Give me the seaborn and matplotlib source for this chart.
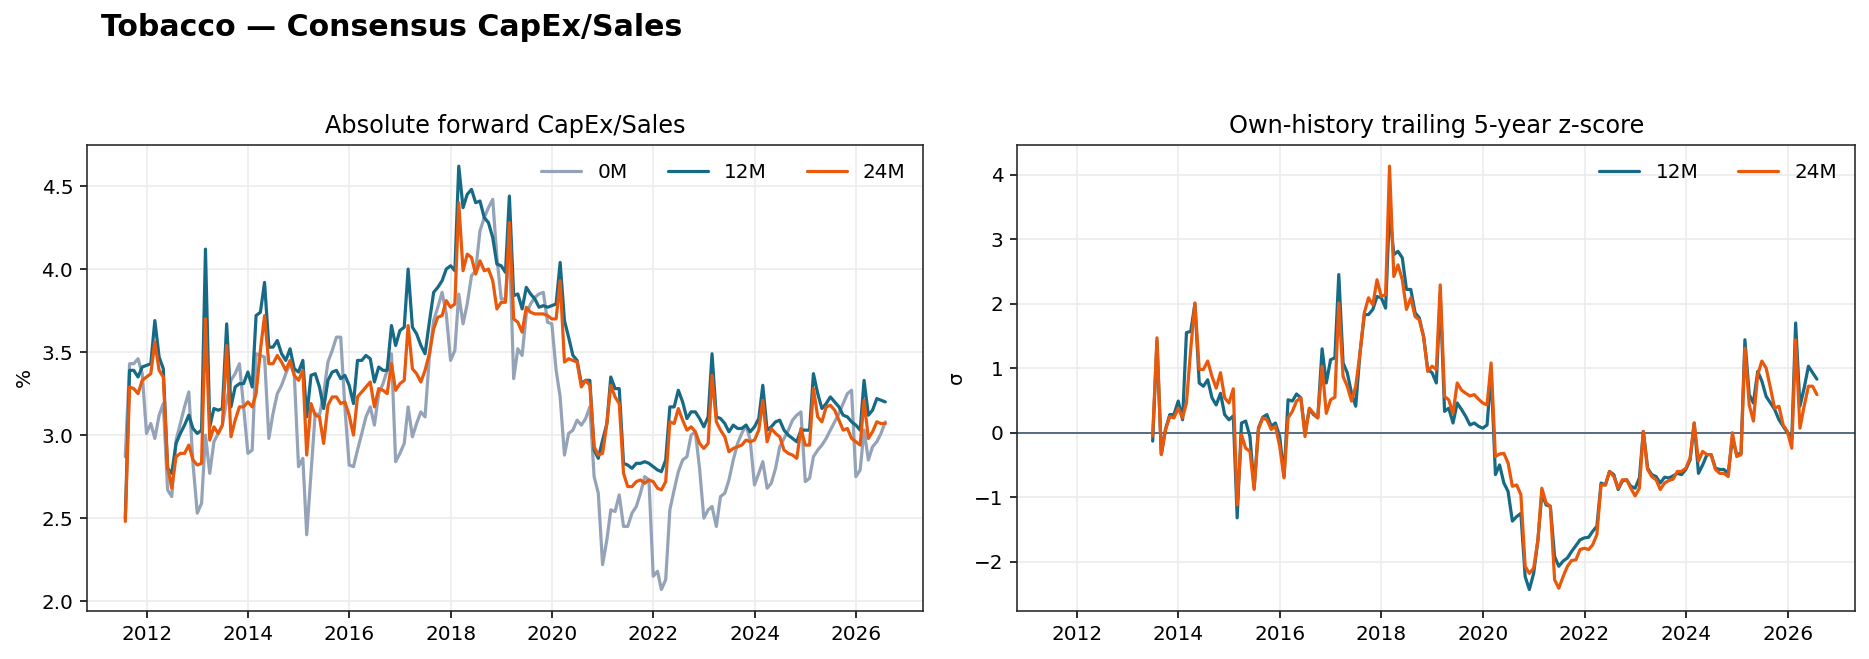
import matplotlib
matplotlib.use("Agg")
import matplotlib.pyplot as plt
import matplotlib.dates as mdates
import numpy as np
import pandas as pd
import seaborn as sns

# monthly observations, first at end of Jul 2011
start = "2011-07-31"
n_months = 181
z_start = 23          # z-score needs 2y of history before it starts

series_names = ["0M", "12M", "24M"]
colors = {"0M": "#94a3b8", "12M": "#176a86", "24M": "#ea580c"}

capex_0m = [
    2.87, 3.43, 3.43, 3.46, 3.37, 3.01, 3.07, 2.98, 3.12, 3.19,
    2.67, 2.63, 2.97, 3.07, 3.17, 3.26, 2.83, 2.53, 2.59, 3.00,
    2.77, 2.96, 3.01, 3.06, 3.21, 3.33, 3.37, 3.43, 3.17, 2.89,
    2.91, 3.49, 3.48, 3.47, 2.98, 3.13, 3.25, 3.30, 3.37, 3.43,
    3.37, 2.81, 2.86, 2.40, 2.77, 3.13, 3.12, 3.25, 3.44, 3.51,
    3.59, 3.59, 3.17, 2.82, 2.81, 2.91, 3.01, 3.11, 3.17, 3.06,
    3.25, 3.31, 3.39, 3.49, 2.84, 2.89, 2.95, 3.17, 2.99, 3.07,
    3.14, 3.11, 3.47, 3.69, 3.77, 3.86, 3.73, 3.45, 3.51, 3.85,
    3.67, 3.79, 3.96, 3.99, 4.23, 4.31, 4.37, 4.42, 4.07, 3.82,
    3.82, 4.15, 3.34, 3.52, 3.48, 3.73, 3.79, 3.83, 3.85, 3.86,
    3.68, 3.67, 3.39, 3.23, 2.88, 3.01, 3.03, 3.09, 3.06, 3.10,
    3.17, 2.75, 2.65, 2.22, 2.37, 2.55, 2.54, 2.64, 2.45, 2.45,
    2.53, 2.57, 2.65, 2.75, 2.73, 2.15, 2.18, 2.07, 2.13, 2.55,
    2.67, 2.78, 2.85, 2.87, 3.00, 3.02, 2.80, 2.50, 2.55, 2.57,
    2.45, 2.63, 2.65, 2.73, 2.85, 2.95, 3.01, 3.06, 2.97, 2.70,
    2.77, 2.84, 2.68, 2.71, 2.80, 2.93, 2.98, 3.03, 3.09, 3.12,
    3.14, 2.72, 2.74, 2.87, 2.91, 2.94, 2.98, 3.03, 3.08, 3.13,
    3.19, 3.25, 3.27, 2.75, 2.79, 3.03, 2.85, 2.93, 2.96, 3.01,
    3.08]

capex_12m = [
    2.50, 3.39, 3.39, 3.35, 3.41, 3.42, 3.43, 3.69, 3.47, 3.40,
    2.80, 2.77, 2.95, 3.01, 3.06, 3.12, 3.04, 3.01, 3.03, 4.12,
    3.05, 3.16, 3.15, 3.16, 3.67, 3.17, 3.29, 3.31, 3.31, 3.38,
    3.29, 3.72, 3.74, 3.92, 3.53, 3.53, 3.57, 3.49, 3.45, 3.52,
    3.40, 3.38, 3.45, 3.11, 3.36, 3.37, 3.29, 3.16, 3.33, 3.38,
    3.39, 3.34, 3.36, 3.30, 3.19, 3.45, 3.45, 3.48, 3.46, 3.32,
    3.41, 3.39, 3.39, 3.66, 3.54, 3.63, 3.65, 4.00, 3.65, 3.61,
    3.54, 3.49, 3.68, 3.86, 3.89, 3.93, 4.00, 4.02, 3.99, 4.62,
    4.37, 4.45, 4.48, 4.40, 4.41, 4.31, 4.28, 4.19, 4.03, 4.02,
    3.98, 4.44, 3.84, 3.85, 3.76, 3.89, 3.85, 3.82, 3.77, 3.78,
    3.77, 3.78, 3.79, 4.04, 3.69, 3.59, 3.48, 3.45, 3.31, 3.33,
    3.33, 2.91, 2.86, 2.97, 3.07, 3.35, 3.28, 3.28, 2.83, 2.82,
    2.80, 2.83, 2.83, 2.84, 2.83, 2.81, 2.79, 2.78, 2.85, 3.17,
    3.17, 3.27, 3.20, 3.10, 3.14, 3.14, 3.10, 3.05, 3.11, 3.49,
    3.11, 3.10, 3.07, 3.02, 3.06, 3.04, 3.04, 3.06, 3.02, 3.05,
    3.10, 3.30, 3.03, 3.05, 3.08, 3.09, 3.03, 3.00, 2.98, 2.96,
    3.03, 3.03, 3.03, 3.37, 3.25, 3.16, 3.19, 3.23, 3.20, 3.17,
    3.12, 3.11, 3.08, 3.06, 3.03, 3.33, 3.12, 3.15, 3.22, 3.21,
    3.20]

capex_24m = [
    2.48, 3.29, 3.28, 3.25, 3.33, 3.35, 3.37, 3.56, 3.39, 3.35,
    2.81, 2.68, 2.87, 2.89, 2.89, 2.94, 2.85, 2.82, 2.83, 3.70,
    2.97, 3.05, 3.01, 3.06, 3.54, 2.99, 3.09, 3.17, 3.17, 3.20,
    3.17, 3.25, 3.51, 3.72, 3.43, 3.43, 3.48, 3.44, 3.39, 3.45,
    3.36, 3.33, 3.39, 2.88, 3.19, 3.12, 3.11, 2.95, 3.18, 3.23,
    3.23, 3.19, 3.20, 3.12, 3.00, 3.23, 3.26, 3.29, 3.32, 3.17,
    3.28, 3.27, 3.25, 3.43, 3.27, 3.31, 3.33, 3.66, 3.40, 3.37,
    3.32, 3.39, 3.49, 3.64, 3.71, 3.72, 3.81, 3.77, 3.79, 4.40,
    3.99, 4.09, 4.07, 3.97, 4.05, 3.99, 4.00, 3.93, 3.76, 3.80,
    3.80, 4.28, 3.70, 3.68, 3.62, 3.77, 3.74, 3.73, 3.73, 3.73,
    3.72, 3.70, 3.70, 3.93, 3.44, 3.46, 3.45, 3.44, 3.29, 3.33,
    3.30, 2.93, 2.88, 2.89, 3.07, 3.30, 3.23, 3.19, 2.77, 2.69,
    2.69, 2.72, 2.73, 2.71, 2.73, 2.72, 2.68, 2.67, 2.72, 3.08,
    3.07, 3.16, 3.09, 3.03, 3.05, 3.02, 2.95, 2.92, 2.95, 3.36,
    3.08, 3.03, 2.99, 2.90, 2.92, 2.93, 2.94, 2.97, 2.96, 2.97,
    3.03, 3.21, 2.96, 3.04, 3.01, 2.99, 2.91, 2.89, 2.88, 2.86,
    3.04, 2.94, 2.94, 3.28, 3.11, 3.08, 3.17, 3.18, 3.15, 3.09,
    3.03, 3.04, 2.98, 2.96, 2.94, 3.21, 2.98, 3.02, 3.08, 3.07,
    3.07]

z_12m = [
    -0.13, 1.42, -0.33, 0.05, 0.28, 0.28, 0.49,
    0.20, 1.55, 1.57, 2.00, 0.77, 0.72, 0.82, 0.54, 0.43, 0.61,
    0.28, 0.20, 0.26, -1.32, 0.15, 0.18, -0.06, -0.86, 0.07, 0.24,
    0.28, 0.10, 0.15, -0.06, -0.68, 0.51, 0.49, 0.60, 0.54, 0.00,
    0.36, 0.28, 0.23, 1.30, 0.77, 1.13, 1.16, 2.45, 1.08, 0.93,
    0.61, 0.41, 1.24, 1.83, 1.83, 1.91, 2.11, 2.09, 1.93, 3.45,
    2.76, 2.81, 2.71, 2.22, 2.22, 1.86, 1.78, 1.49, 0.98, 0.93,
    0.77, 2.15, 0.33, 0.38, 0.15, 0.46, 0.36, 0.25, 0.12, 0.15,
    0.10, 0.07, 0.12, 0.93, -0.65, -0.50, -0.78, -0.91, -1.37, -1.30,
    -1.25, -2.23, -2.43, -2.18, -1.66, -0.94, -1.12, -1.14, -1.92, -2.07,
    -1.99, -1.94, -1.84, -1.75, -1.66, -1.63, -1.62, -1.53, -1.45, -0.78,
    -0.81, -0.60, -0.65, -0.88, -0.75, -0.73, -0.83, -0.86, -0.70, 0.02,
    -0.55, -0.65, -0.68, -0.78, -0.69, -0.70, -0.67, -0.63, -0.65, -0.57,
    -0.42, 0.15, -0.63, -0.50, -0.34, -0.34, -0.55, -0.57, -0.57, -0.63,
    -0.08, -0.34, -0.32, 1.44, 0.59, 0.46, 0.95, 0.80, 0.56, 0.46,
    0.36, 0.20, 0.10, 0.00, -0.11, 1.70, 0.41, 0.69, 1.03, 0.93,
    0.83]

z_24m = [
    -0.05, 1.47, -0.34, 0.04, 0.25, 0.23, 0.38,
    0.23, 0.46, 1.30, 2.01, 0.98, 0.98, 1.11, 0.87, 0.69, 0.93,
    0.54, 0.46, 0.68, -1.12, -0.03, -0.24, -0.29, -0.88, 0.05, 0.23,
    0.20, 0.05, 0.10, -0.21, -0.70, 0.23, 0.33, 0.49, 0.54, -0.06,
    0.38, 0.30, 0.23, 1.03, 0.30, 0.51, 0.55, 2.01, 0.87, 0.72,
    0.49, 0.72, 1.24, 1.86, 2.09, 1.98, 2.37, 2.11, 2.14, 4.13,
    2.42, 2.60, 2.37, 1.91, 2.09, 1.80, 1.75, 1.49, 0.95, 1.03,
    0.98, 2.29, 0.56, 0.51, 0.30, 0.77, 0.66, 0.61, 0.57, 0.59,
    0.52, 0.46, 0.43, 1.08, -0.37, -0.33, -0.32, -0.47, -0.83, -0.81,
    -0.96, -2.07, -2.18, -2.10, -1.66, -0.86, -1.09, -1.14, -2.28, -2.41,
    -2.23, -2.07, -1.98, -1.97, -1.81, -1.79, -1.81, -1.74, -1.58, -0.81,
    -0.81, -0.60, -0.68, -0.86, -0.73, -0.73, -0.86, -0.98, -0.86, 0.02,
    -0.57, -0.68, -0.73, -0.88, -0.78, -0.74, -0.72, -0.60, -0.60, -0.55,
    -0.39, 0.15, -0.44, -0.29, -0.34, -0.34, -0.57, -0.63, -0.63, -0.68,
    0.00, -0.37, -0.34, 1.31, 0.43, 0.18, 0.90, 1.11, 1.00, 0.69,
    0.38, 0.41, 0.12, 0.02, -0.24, 1.44, 0.07, 0.41, 0.72, 0.72,
    0.59]


dates = pd.date_range(start, periods=n_months, freq="ME")

abs_df = pd.DataFrame({"date": dates, "0M": capex_0m,
                       "12M": capex_12m, "24M": capex_24m})
abs_long = abs_df.melt(id_vars="date", var_name="horizon", value_name="value")

z_df = pd.DataFrame({"date": dates[z_start:], "12M": z_12m, "24M": z_24m})
z_long = z_df.melt(id_vars="date", var_name="horizon", value_name="value")


sns.set_style("ticks", {"axes.edgecolor": "#262626", "text.color": "black",
                        "axes.labelcolor": "black",
                        "xtick.color": "black", "ytick.color": "black"})
plt.rcParams["font.family"] = ["DejaVu Sans"]
plt.rcParams["xtick.labelsize"] = 10
plt.rcParams["ytick.labelsize"] = 10
plt.rcParams["legend.fontsize"] = 10

dpi = 144
fig = plt.figure(figsize=(1869 / dpi, 659 / dpi), dpi=dpi)
ax1 = fig.add_axes([0.0467, 0.0733, 0.4473, 0.7067])
ax2 = fig.add_axes([0.5443, 0.0733, 0.4482, 0.7067])

sns.lineplot(data=abs_long, x="date", y="value", hue="horizon",
             hue_order=series_names, palette=colors, lw=1.6, ax=ax1)
ax1.set_title("Absolute forward CapEx/Sales", fontsize=12)
ax1.set_ylabel("%", fontsize=10)

ax2.axhline(0, color="#5b6f82", lw=1.0, zorder=1)
sns.lineplot(data=z_long, x="date", y="value", hue="horizon",
             hue_order=["12M", "24M"], palette=colors, lw=1.6, ax=ax2)
ax2.set_title("Own-history trailing 5-year z-score", fontsize=12)
ax2.set_ylabel("\u03c3", fontsize=10)

for ax in (ax1, ax2):
    ax.set_xlabel("")
    ax.xaxis.set_major_locator(mdates.YearLocator(2))
    ax.xaxis.set_major_formatter(mdates.DateFormatter("%Y"))
    ax.grid(True, color="#ececec", lw=0.8)
    ax.set_axisbelow(True)
    ax.legend(frameon=False, ncol=3, loc="upper right", title=None)
    for s in ax.spines.values():
        s.set_visible(True)

ax1.set_yticks([2.0, 2.5, 3.0, 3.5, 4.0, 4.5])
ax2.set_xlim(ax1.get_xlim())

fig.text(0.054, 0.958, "Tobacco \u2014 Consensus CapEx/Sales",
         fontsize=15, fontweight="bold", va="center", ha="left")

fig.savefig("out.png", dpi=dpi)
